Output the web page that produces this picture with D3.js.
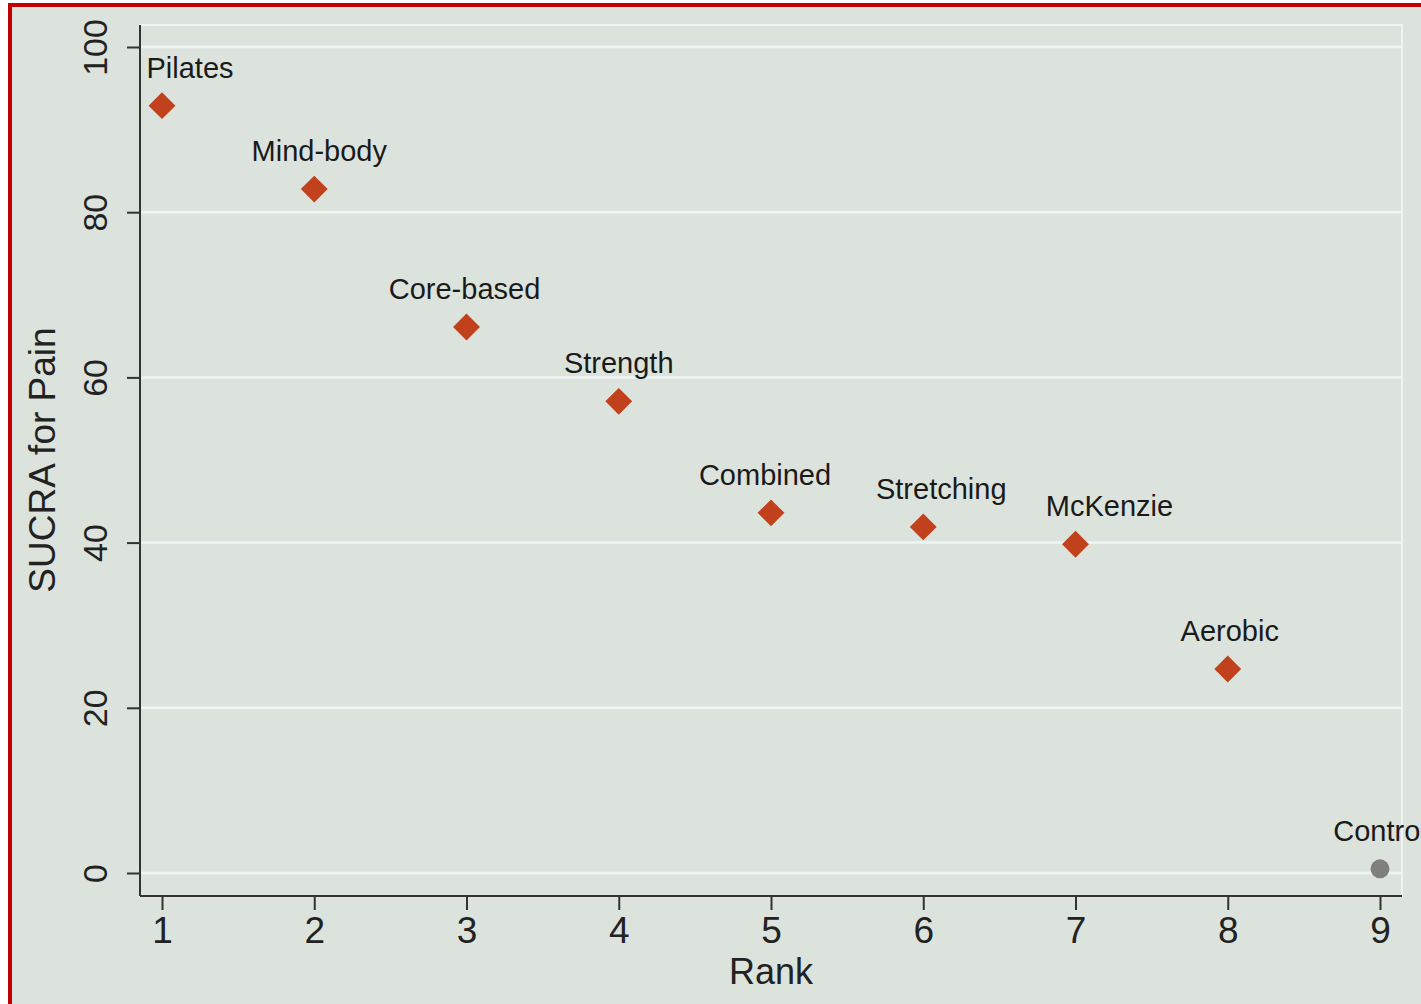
<!DOCTYPE html>
<html><head><meta charset="utf-8">
<script src="https://cdn.jsdelivr.net/npm/d3@7"></script>
<style>html,body{margin:0;padding:0;background:#fff;overflow:hidden}</style>
</head><body>
<svg id="chart" width="1421" height="1004"></svg>
<script>
const treatments = ["Pilates","Mind-body","Core-based","Strength","Combined","Stretching","McKenzie","Aerobic","Control"];
const ranks = [1,2,3,4,5,6,7,8,9];
const sucra = [92.9, 82.8, 66.1, 57.1, 43.6, 41.9, 39.8, 24.7, 0.5];
const labelNudge = [28, 5, -2, 0, -6, 18, 34, 2, 0]; // px horizontal label nudge
const yTicks = [0,20,40,60,80,100];
const xTicks = [1,2,3,4,5,6,7,8,9];

(function(){
const svg = d3.select("#chart");
const W = 1421, H = 1004;
const font = "'Liberation Sans', Arial, Helvetica, sans-serif";

svg.append("rect").attr("x",0).attr("y",0).attr("width",W).attr("height",H).attr("fill","#ffffff");
svg.append("rect").attr("x",10).attr("y",5).attr("width",W+20).attr("height",H+20)
  .attr("fill","#dce3dc").attr("stroke","#c00000").attr("stroke-width",4);

const x = d3.scaleLinear().domain([1,9]).range([162,1380]);
const y = d3.scaleLinear().domain([0,100]).range([873,47]);
const pL = 140, pT = 25, pR = 1402, pB = 896;

svg.append("rect").attr("x",pL).attr("y",pT).attr("width",pR-pL).attr("height",pB-pT)
  .attr("fill","none").attr("stroke","#eef4f4").attr("stroke-width",2);

svg.append("g").selectAll("line").data(yTicks).join("line")
  .attr("x1",pL).attr("x2",pR).attr("y1",d=>y(d)).attr("y2",d=>y(d))
  .attr("stroke","#eef5f5").attr("stroke-width",2.5);

const yAxis = svg.append("g").attr("transform",`translate(${pL},0)`)
  .call(d3.axisLeft(y).tickValues(yTicks).tickSize(13).tickPadding(0).tickFormat(d3.format("d")));
yAxis.select(".domain").attr("d",`M0,${pT}V${pB}`).attr("stroke","#333").attr("stroke-width",2);
yAxis.selectAll(".tick line").attr("stroke","#333").attr("stroke-width",2);
yAxis.selectAll(".tick text")
  .attr("font-family",font).attr("font-size",34).attr("fill","#222")
  .attr("x",0).attr("dy",null).attr("text-anchor","middle")
  .attr("transform","translate(-45,0) rotate(-90)")
  .attr("dominant-baseline","central");

const xAxis = svg.append("g").attr("transform",`translate(0,${pB})`)
  .call(d3.axisBottom(x).tickValues(xTicks).tickSize(14).tickPadding(7).tickFormat(d3.format("d")));
xAxis.select(".domain").attr("d",`M${pL},0H${pR}`).attr("stroke","#333").attr("stroke-width",2);
xAxis.selectAll(".tick line").attr("stroke","#333").attr("stroke-width",2);
xAxis.selectAll(".tick text").attr("font-family",font).attr("font-size",37).attr("fill","#222");

svg.append("text").attr("x",771).attr("y",984).attr("text-anchor","middle")
  .attr("font-family",font).attr("font-size",36).attr("fill","#222").text("Rank");
svg.append("text").attr("transform","translate(55,460) rotate(-90)").attr("text-anchor","middle")
  .attr("font-family",font).attr("font-size",37).attr("fill","#222").text("SUCRA for Pain");

const pts = treatments.map((t,i)=>({t, r:ranks[i], v:sucra[i], n:labelNudge[i]}));
const diamond = d3.symbol().type(d3.symbolSquare).size(19*19);
svg.append("g").selectAll("path").data(pts.filter(d=>d.t!=="Control")).join("path")
  .attr("d",diamond)
  .attr("transform",d=>`translate(${x(d.r)},${y(d.v)}) rotate(45)`)
  .attr("fill","#c2411d");
svg.append("g").selectAll("circle").data(pts.filter(d=>d.t==="Control")).join("circle")
  .attr("cx",d=>x(d.r)).attr("cy",d=>y(d.v)).attr("r",9.5).attr("fill","#7f7f7f");

svg.append("g").selectAll("text").data(pts).join("text")
  .attr("x",d=>x(d.r)+d.n).attr("y",d=>y(d.v)-28)
  .attr("text-anchor","middle")
  .attr("font-family",font).attr("font-size",29).attr("fill","#1a1a1a")
  .text(d=>d.t);
})();
</script>
</body></html>
